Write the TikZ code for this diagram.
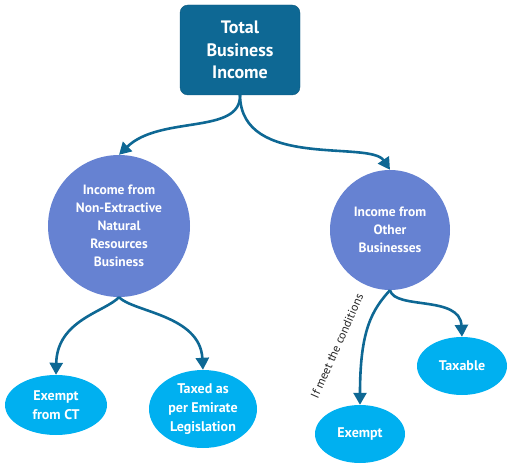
\documentclass[tikz,border=0pt]{standalone}
\usepackage{fontspec}
\setmainfont{PT Sans}
\usepackage{tikz}
\usetikzlibrary{shapes.geometric, arrows.meta, positioning}
\definecolor{headcolor}{RGB}{14,104,148}
\definecolor{sourcecolor}{RGB}{102,130,210}
\definecolor{resultcolor}{RGB}{0,176,240}

\begin{document}
\begin{tikzpicture}[
    x=1pt, y=-1pt,
    headbox/.style={draw=headcolor!85!black, fill=headcolor, rounded corners=8pt, minimum width=120pt, minimum height=90pt, text=white, font=\bfseries\fontsize{18}{22.5}\selectfont, align=center},
    sourcecircle/.style={circle, fill=sourcecolor, minimum size=142pt, inner sep=0pt, text=white, font=\bfseries\fontsize{13.5}{18}\selectfont, align=center},
    resultoval/.style={ellipse, fill=resultcolor, inner sep=0pt, text=white, font=\bfseries\fontsize{14}{19}\selectfont, align=center},
    arrow/.style={-{Triangle[length=12pt,width=13pt]}, line width=2.6pt, draw=headcolor}
]
    \useasboundingbox (0,0) rectangle (512,468);
    % Top
    \node[headbox] (total) at (240,50) {Total\\Business\\Income};
    % Income types
    \node[sourcecircle] (natural) at (119,226) {Income from\\Non-Extractive\\Natural\\Resources\\Business};
    \node[sourcecircle, minimum size=120pt] (other) at (390,230) {Income from\\Other\\Businesses};
    % Results
    \node[resultoval, minimum width=102pt, minimum height=60pt] (exemptct) at (56,405) {Exempt\\from CT};
    \node[resultoval, minimum width=108pt, minimum height=78pt] (emirate) at (203,409) {Taxed as\\per Emirate\\Legislation};
    \node[resultoval, minimum width=90pt, minimum height=58pt] (exempt) at (360,434) {Exempt};
    \node[resultoval, minimum width=90pt, minimum height=58pt] (taxable) at (462,366) {Taxable};
    
    % Arrows
    \draw[arrow] (total.south) .. controls (241,135) and (160,115) .. (natural.north);
    \draw[arrow] (total.south) .. controls (241,170) and (370,140) .. (other.north);
    \draw[arrow] (natural.south) .. controls (105,312) and (57,320) .. (exemptct.north);
    \draw[arrow] (natural.south) .. controls (133,312) and (200,315) .. (emirate.north);
    \draw[arrow] (other.south) .. controls (372,310) and (360,330) .. (exempt.north);
    \draw[arrow] (other.south) .. controls (395,310) and (460,295) .. (taxable.north);
    \node[rotate=66, font=\fontsize{12}{14}\selectfont, text=black!85] (cond) at (337,346) {If meet the conditions};
\end{tikzpicture}
\end{document}
